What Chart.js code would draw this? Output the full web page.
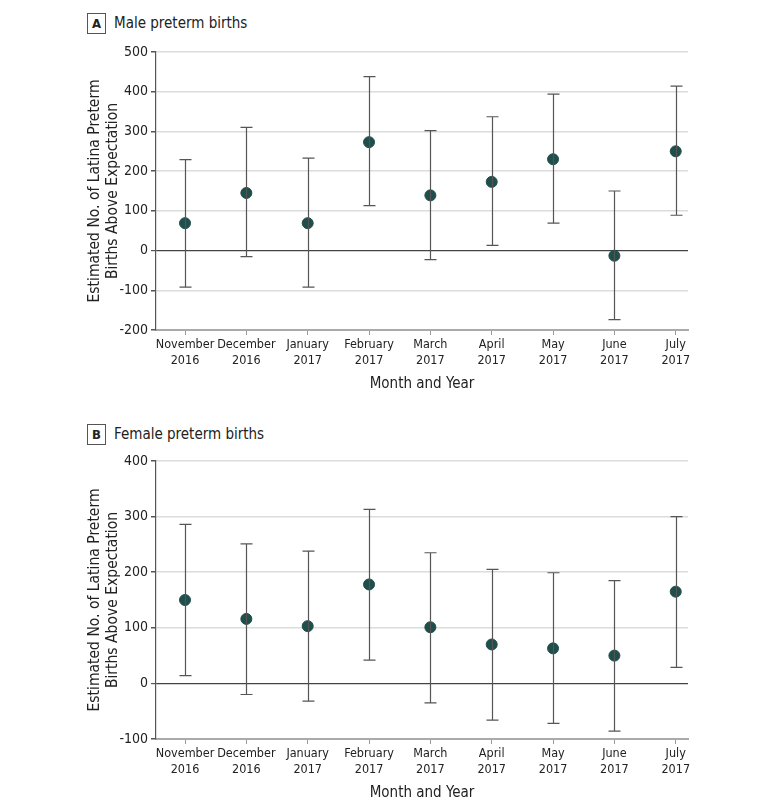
<!DOCTYPE html>
<html>
<head>
<meta charset="utf-8">
<script src="https://cdn.jsdelivr.net/npm/chart.js@4"></script>
<style>
  body { margin: 0; background: #fff; }
  #wrap { position: relative; width: 780px; height: 809px; font-family: 'Liberation Sans Narrow', 'DejaVu Sans Condensed', sans-serif; }
  .pane { position: absolute; left: 0; width: 780px; height: 400px; }
  .tag { position: absolute; left: 87px; font-size: 15px; color: #222; }
  .tag b { display: inline-block; width: 17px; height: 19px; line-height: 19px; text-align: center; border: 1px solid #555; margin-right: 8px; font-size: 13px; }
</style>
</head>
<body>
<div id="wrap">
  <div class="tag" style="top:13px"><b>A</b>Male preterm births</div>
  <div class="pane" style="top:0"><canvas id="chartMale" width="780" height="400"></canvas></div>
  <div class="tag" style="top:424px"><b>B</b>Female preterm births</div>
  <div class="pane" style="top:409px"><canvas id="chartFemale" width="780" height="400"></canvas></div>
</div>
<script>
/* ===================== DATA ===================== */

const MONTHS = ["November","December","January","February","March","April","May","June","July"];
const YEARS  = ["2016","2016","2017","2017","2017","2017","2017","2017","2017"];

const MALE_EST  = [69, 145, 69, 273, 139, 173, 230, -13, 250];
const MALE_LO   = [-92, -15, -92, 113, -23, 13, 69, -174, 89];
const MALE_HI   = [229, 310, 233, 438, 302, 337, 394, 150, 414];

const FEMALE_EST = [150, 116, 103, 178, 101, 70, 63, 50, 165];
const FEMALE_LO  = [14, -20, -32, 42, -35, -66, -72, -86, 29];
const FEMALE_HI  = [286, 251, 238, 313, 235, 205, 199, 185, 300];

const Y_TITLE = ["Estimated No. of Latina Preterm", "Births Above Expectation"];
const X_TITLE = "Month and Year";

/* ===================== HELPERS ===================== */

const FONT = "'Liberation Sans Narrow', 'DejaVu Sans Condensed', sans-serif";
Chart.defaults.font.family = FONT;
Chart.defaults.color = "#222";

const errorBars = {
  id: "errorBars",
  afterDatasetsDraw(chart, args, opts) {
    const { ctx, scales: { x, y } } = chart;
    ctx.save();
    ctx.strokeStyle = "#555";
    ctx.lineWidth = 1.2;
    opts.lo.forEach((lo, i) => {
      const px = Math.round(x.getPixelForValue(i)) + 0.5;
      const pLo = y.getPixelForValue(lo);
      const pHi = y.getPixelForValue(opts.hi[i]);
      ctx.beginPath();
      ctx.moveTo(px, pLo); ctx.lineTo(px, pHi);
      ctx.moveTo(px - 6, pLo); ctx.lineTo(px + 6, pLo);
      ctx.moveTo(px - 6, pHi); ctx.lineTo(px + 6, pHi);
      ctx.stroke();
    });
    ctx.restore();
  }
};

function makeChart(el, est, lo, hi, yMin, yMax) {
  return new Chart(el, {
    type: "scatter",
    data: {
      datasets: [{
        data: est.map((v, i) => ({ x: i, y: v })),
        backgroundColor: "#1f4e4b",
        borderColor: "#1f4e4b",
        pointRadius: 5.5,
        pointHoverRadius: 5.5,
        order: 0
      }]
    },
    options: {
      responsive: false,
      animation: false,
      layout: { padding: { left: 78, right: 92, top: 52, bottom: 0 } },
      plugins: {
        legend: { display: false },
        tooltip: { enabled: false },
        errorBars: { lo, hi }
      },
      scales: {
        x: {
          type: "linear",
          min: -0.473,
          max: 8.2,
          afterBuildTicks: s => { s.ticks = MONTHS.map((m, i) => ({ value: i })); },
          afterFit: s => { s.height = 70; },
          ticks: {
            font: { size: 12.5, lineHeight: 1.28 },
            padding: 2,
            maxRotation: 0,
            autoSkip: false,
            callback: v => [MONTHS[v], YEARS[v]]
          },
          grid: { drawOnChartArea: false, drawTicks: true, tickLength: 5, color: "#999", lineWidth: 1 },
          border: { color: "#aaa", width: 2 },
          title: { display: true, text: X_TITLE, font: { size: 15 }, padding: { top: 4, bottom: 7 } }
        },
        y: {
          min: yMin,
          max: yMax,
          afterFit: s => { s.width = 78; },
          ticks: { stepSize: 100, font: { size: 14 }, padding: 3 },
          grid: {
            color: c => c.tick && c.tick.value === 0 ? "#444" : "#dcdcdc",
            lineWidth: c => c.tick && c.tick.value === 0 ? 1.2 : 1.5,
            tickColor: "#555",
            tickLength: 5
          },
          border: { color: "#555", width: 1.2 },
          title: { display: true, text: Y_TITLE, font: { size: 15.5, lineHeight: 1.16 }, padding: { top: 8 } }
        }
      }
    },
    plugins: [errorBars]
  });
}

/* ===================== CHARTS ===================== */

makeChart(document.getElementById("chartMale"), MALE_EST, MALE_LO, MALE_HI, -200, 500);
makeChart(document.getElementById("chartFemale"), FEMALE_EST, FEMALE_LO, FEMALE_HI, -100, 400);
</script>
</body>
</html>
